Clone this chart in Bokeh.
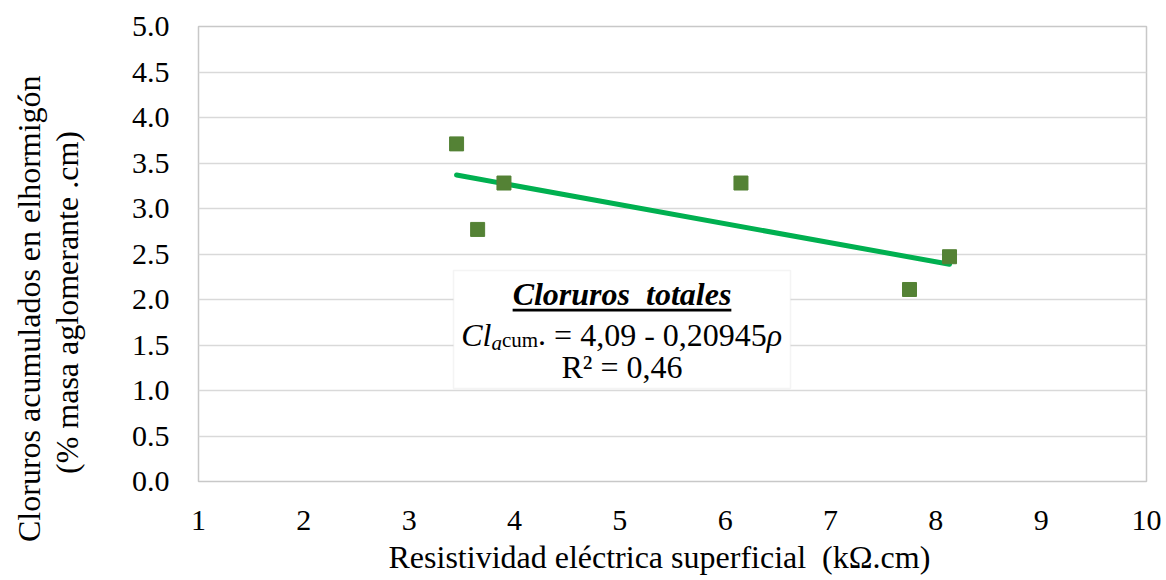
from bokeh.plotting import figure
from bokeh.models import (Range1d, FixedTicker, PrintfTickFormatter, Label, BoxAnnotation,
                          Title, LinearAxis)
from bokeh.embed import file_html
from bokeh.resources import INLINE

# ---- data ----
resistivity = [3.45, 3.65, 3.90, 6.15, 7.75, 8.13]
chlorides = [3.71, 2.77, 3.28, 3.28, 2.11, 2.47]
trend_intercept = 4.09
trend_slope = -0.20945
x_ticks = [1, 2, 3, 4, 5, 6, 7, 8, 9, 10]
y_ticks = [0.0, 0.5, 1.0, 1.5, 2.0, 2.5, 3.0, 3.5, 4.0, 4.5, 5.0]
x_title = "Resistividad eléctrica superficial\u00a0 (kΩ.cm)"
y_title_1 = "Cloruros acumulados en elhormigón"
y_title_2 = "(% masa aglomerante .cm)"
box_title = "Cloruros\u00a0 totales"
r2_text = "R² = 0,46"

FONT = "Liberation Serif"
TICK_SIZE = "30px"
TITLE_SIZE = "32px"

p = figure(width=1166, height=580, x_range=Range1d(1, 10), y_range=Range1d(0, 5),
           output_backend="svg", toolbar_location=None,
           min_border_left=198, min_border_right=20, min_border_top=26, min_border_bottom=99)
p.background_fill_color = "white"
p.border_fill_color = "white"
p.outline_line_color = "#c8c8c8"
p.outline_line_width = 1.5

p.xgrid.visible = False
p.ygrid.grid_line_color = "#d9d9d9"
p.ygrid.grid_line_width = 1.3
p.ygrid.ticker = FixedTicker(ticks=y_ticks)

for ax in (p.xaxis[0], p.yaxis[0]):
    ax.axis_line_color = None
    ax.major_tick_line_color = None
    ax.minor_tick_line_color = None
    ax.major_label_text_font = FONT
    ax.major_label_text_font_size = TICK_SIZE
    ax.major_label_text_color = "black"

p.xaxis[0].ticker = FixedTicker(ticks=x_ticks)
p.xaxis[0].major_label_standoff = 23
p.yaxis[0].ticker = FixedTicker(ticks=y_ticks)
p.yaxis[0].formatter = PrintfTickFormatter(format="%.1f")
p.yaxis[0].major_label_standoff = 23

# blank axis used only as spacing between tick labels and the axis titles
spacer = LinearAxis(ticker=FixedTicker(ticks=[2.5]), major_label_overrides={2.5: ""},
                    major_tick_out=44, major_tick_in=0,
                    major_tick_line_color="white", minor_tick_line_color=None,
                    axis_line_color=None, major_label_standoff=0)
p.add_layout(spacer, "left")

# trend line from displayed regression coefficients
x_tr = [min(resistivity), max(resistivity)]
y_tr = [trend_intercept + trend_slope * v for v in x_tr]
p.line(x_tr, y_tr, line_color="#00B050", line_width=5, line_cap="round")

p.scatter(resistivity, chlorides, marker="square", size=14,
          fill_color="#548235", line_color="#548235")

# axis titles as side-panel titles
p.add_layout(Title(text=x_title, align="left", offset=190, standoff=8,
                   text_font=FONT, text_font_size=TITLE_SIZE,
                   text_font_style="normal", text_color="black"), "below")
p.add_layout(Title(text=y_title_2, align="left", offset=7.5, standoff=0,
                   text_font=FONT, text_font_size=TITLE_SIZE,
                   text_font_style="normal", text_color="black"), "left")
p.add_layout(Title(text=y_title_1, align="left", offset=-60.5, standoff=0,
                   text_font=FONT, text_font_size=TITLE_SIZE,
                   text_font_style="normal", text_color="black"), "left")

# equation box
px_per_x = 948 / 9.0
box = BoxAnnotation(left=3.421, right=6.620, top=2.319, bottom=1.022,
                    fill_color="white", fill_alpha=1.0,
                    line_color="#d9d9d9", line_width=1.5)
p.add_layout(box)
cx = (3.421 + 6.620) / 2

F = 32
FS = 21
p.add_layout(Label(x=cx, y=2.055, text=box_title, text_font=FONT, text_font_size=f"{F}px",
                   text_font_style="bold italic", text_align="center",
                   text_baseline="alphabetic", text_color="black"))
ul_w = 6.835 * F
p.add_layout(BoxAnnotation(left=cx - ul_w / 2 / px_per_x, right=cx + ul_w / 2 / px_per_x,
                           top=1.898, bottom=1.868, fill_color="black", fill_alpha=1.0,
                           line_color=None))

# equation pieces: (text, size, style, advance_em, baseline_y)
pieces = [
    ("Cl", F, "italic", 0.945, 1.615),
    ("a", FS, "italic", 0.5, 1.518),
    ("cum", FS, "normal", 1.722, 1.551),
    (".", F, "normal", 0.5, 1.615),
    ("= 4,09 - 0,20945", F, "normal", 6.647, 1.615),
    ("ρ", F, "italic", 0.5, 1.615),
]
total_w = sum(sz * w for _, sz, _, w, _ in pieces)
off = -total_w / 2
for txt, sz, style, w, by in pieces:
    p.add_layout(Label(x=cx, y=by, x_offset=off, text=txt, text_font=FONT,
                       text_font_size=f"{sz}px", text_font_style=style,
                       text_align="left", text_baseline="alphabetic", text_color="black"))
    off += sz * w

p.add_layout(Label(x=cx, y=1.253, text=r2_text, text_font=FONT, text_font_size=f"{F}px",
                   text_align="center", text_baseline="alphabetic", text_color="black"))

open("out.html", "w").write(file_html(p, INLINE))
